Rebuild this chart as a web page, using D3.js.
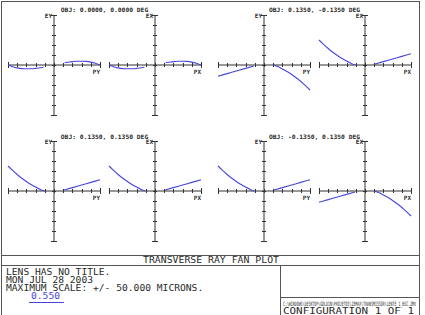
<!DOCTYPE html>
<html>
<head>
<meta charset="utf-8">
<script src="https://cdn.jsdelivr.net/npm/d3@7"></script>
<style>
  body { margin: 0; background: #fff; }
  svg { display: block; }
  text { font-family: "DejaVu Sans Mono", monospace; fill: #2a2a2a; }
</style>
</head>
<body>
<svg id="svg" width="425" height="315"></svg>
<script>
// field labels, one per pair of fans
var fieldLabels = ["OBJ: 0.0000, 0.0000 DEG", "OBJ: 0.1350, -0.1350 DEG",
                   "OBJ: 0.1350, 0.1350 DEG", "OBJ: -0.1350, 0.1350 DEG"];

// half fans (pupil coord, microns)
var pupilOnAxis = [0.23, 0.3, 0.4, 0.5, 0.6, 0.7, 0.8, 0.9, 1.0];
var fanOnAxis   = [2.2, 2.7, 3.4, 3.8, 3.8, 3.6, 2.9, 1.7, 0.0];

var pupilCurve = [0.21, 0.3, 0.4, 0.5, 0.6, 0.7, 0.8, 0.9, 1.0];
var fanCurve   = [0.0, 1.6, 3.9, 6.5, 9.5, 12.8, 16.5, 20.6, 25.0];

var pupilLine = [0.22, 0.4, 0.6, 0.8, 1.0];
var fanLine   = [1.0, 3.4, 6.0, 8.6, 11.2];

// panels: centre, labels and which half fan sits on each side (sign = direction)
var panels = [
  {cx: 54,  cy: 65,  e: "EY", p: "PY", neg: ["axis", -1], pos: ["axis", 1]},
  {cx: 155, cy: 65,  e: "EX", p: "PX", neg: ["axis", -1], pos: ["axis", 1]},
  {cx: 264, cy: 65,  e: "EY", p: "PY", neg: ["line", -1], pos: ["curve", -1]},
  {cx: 365, cy: 65,  e: "EX", p: "PX", neg: ["curve", 1], pos: ["line", 1]},
  {cx: 54,  cy: 191, e: "EY", p: "PY", neg: ["curve", 1], pos: ["line", 1]},
  {cx: 155, cy: 191, e: "EX", p: "PX", neg: ["curve", 1], pos: ["line", 1]},
  {cx: 264, cy: 191, e: "EY", p: "PY", neg: ["curve", 1], pos: ["line", 1]},
  {cx: 365, cy: 191, e: "EX", p: "PX", neg: ["line", -1], pos: ["curve", -1]}
];
var halves = {
  axis:  {p: pupilOnAxis, v: fanOnAxis},
  curve: {p: pupilCurve, v: fanCurve},
  line:  {p: pupilLine, v: fanLine}
};

var titleText = "TRANSVERSE RAY FAN PLOT";
var infoLines = ["LENS HAS NO TITLE.", "MON JUL 28 2003", "MAXIMUM SCALE: +/- 50.000 MICRONS."];
var wavelength = "0.550";
var fileName = "C:\\WINDOWS\\DESKTOP\\GOLDIN\\PROJETOS\\ZEMAX\\TRANSMISSOR\\LENTE_1_BSC.ZMX";
var configText = "CONFIGURATION 1 OF 1";

var svg = d3.select("#svg");
var axisColor = "#333";
var rayColor = "#4646dc";

var pxTicks = d3.range(-1, 1.0001, 0.2);
var eyTicks = d3.range(-50, 50.001, 10);

panels.forEach(function(d) {
  var x = d3.scaleLinear().domain([-1, 1]).range([d.cx - 46, d.cx + 46]);
  var y = d3.scaleLinear().domain([-50, 50]).range([d.cy + 50, d.cy - 50]);
  var g = svg.append("g");

  g.append("line").attr("x1", x(-1)).attr("x2", x(1)).attr("y1", y(0)).attr("y2", y(0))
    .attr("stroke", axisColor);
  g.append("line").attr("x1", x(0)).attr("x2", x(0)).attr("y1", y(-50)).attr("y2", y(50))
    .attr("stroke", axisColor);

  g.selectAll(".xt").data(pxTicks).enter().append("line")
    .attr("x1", function(t) { return Math.round(x(t)) + 0.5; })
    .attr("x2", function(t) { return Math.round(x(t)) + 0.5; })
    .attr("y1", function(t) { return y(0) - (Math.abs(t) > 0.99 ? 3 : 2); })
    .attr("y2", function(t) { return y(0) + (Math.abs(t) > 0.99 ? 3 : 2); })
    .attr("stroke", axisColor);
  g.selectAll(".yt").data(eyTicks).enter().append("line")
    .attr("y1", function(t) { return Math.round(y(t)) + 0.5; })
    .attr("y2", function(t) { return Math.round(y(t)) + 0.5; })
    .attr("x1", function(t) { return x(0) - (Math.abs(t) > 49 ? 3 : 2); })
    .attr("x2", function(t) { return x(0) + (Math.abs(t) > 49 ? 3 : 2); })
    .attr("stroke", axisColor);

  g.append("text").attr("x", x(0) - 2).attr("y", y(50) + 3)
    .attr("text-anchor", "end").attr("font-size", 6).attr("font-weight", "bold").text(d.e);
  g.append("text").attr("x", x(1)).attr("y", y(0) + 9)
    .attr("text-anchor", "end").attr("font-size", 6).attr("font-weight", "bold").text(d.p);

  var line = d3.line().curve(d3.curveMonotoneX)
    .x(function(v) { return x(v[0]); }).y(function(v) { return y(v[1]); });
  [[d.neg, -1], [d.pos, 1]].forEach(function(side) {
    var h = halves[side[0][0]], sgn = side[0][1];
    var pts = h.p.map(function(p, i) { return [side[1] * p, sgn * h.v[i]]; });
    pts.sort(function(a, b) { return a[0] - b[0]; });
    g.append("path").attr("d", line(pts)).attr("fill", "none")
      .attr("stroke", rayColor).attr("stroke-width", 1.1);
  });
});

// field labels between each pair
[[104.5, 10], [314.5, 10], [104.5, 137], [314.5, 137]].forEach(function(pos, i) {
  svg.append("text").attr("x", pos[0]).attr("y", pos[1] + 2)
    .attr("text-anchor", "middle").attr("font-size", 6).attr("font-weight", "bold")
    .attr("textLength", fieldLabels[i].length * 3.8).attr("lengthAdjust", "spacingAndGlyphs")
    .text(fieldLabels[i]);
});

// frame and title block
var frame = "#555";
svg.append("rect").attr("x", 1.5).attr("y", 1.5).attr("width", 418).attr("height", 330)
  .attr("fill", "none").attr("stroke", frame);
[255.5, 265.5].forEach(function(yy) {
  svg.append("line").attr("x1", 1.5).attr("x2", 419.5).attr("y1", yy).attr("y2", yy).attr("stroke", frame);
});
svg.append("line").attr("x1", 280.5).attr("x2", 280.5).attr("y1", 265.5).attr("y2", 330).attr("stroke", frame);
svg.append("line").attr("x1", 280.5).attr("x2", 419.5).attr("y1", 297.5).attr("y2", 297.5).attr("stroke", frame);

svg.append("text").attr("x", 143).attr("y", 263).attr("font-size", 8.5)
  .attr("textLength", 136).attr("lengthAdjust", "spacingAndGlyphs").text(titleText);

infoLines.forEach(function(t, i) {
  svg.append("text").attr("x", 6).attr("y", 275 + i * 8).attr("font-size", 8)
    .attr("textLength", t.length * 5.8).attr("lengthAdjust", "spacingAndGlyphs").text(t);
});
svg.append("text").attr("x", 31).attr("y", 298.5).attr("font-size", 8)
  .attr("textLength", 29).attr("lengthAdjust", "spacingAndGlyphs")
  .style("fill", rayColor).text(wavelength);
svg.append("line").attr("x1", 29).attr("x2", 64).attr("y1", 302.5).attr("y2", 302.5)
  .attr("stroke", rayColor);

svg.append("text").attr("x", 283).attr("y", 306).attr("font-size", 6)
  .attr("textLength", 133).attr("lengthAdjust", "spacingAndGlyphs").text(fileName);
svg.append("text").attr("x", 283).attr("y", 314).attr("font-size", 8.5)
  .attr("textLength", 131).attr("lengthAdjust", "spacingAndGlyphs").text(configText);
</script>
</body>
</html>
